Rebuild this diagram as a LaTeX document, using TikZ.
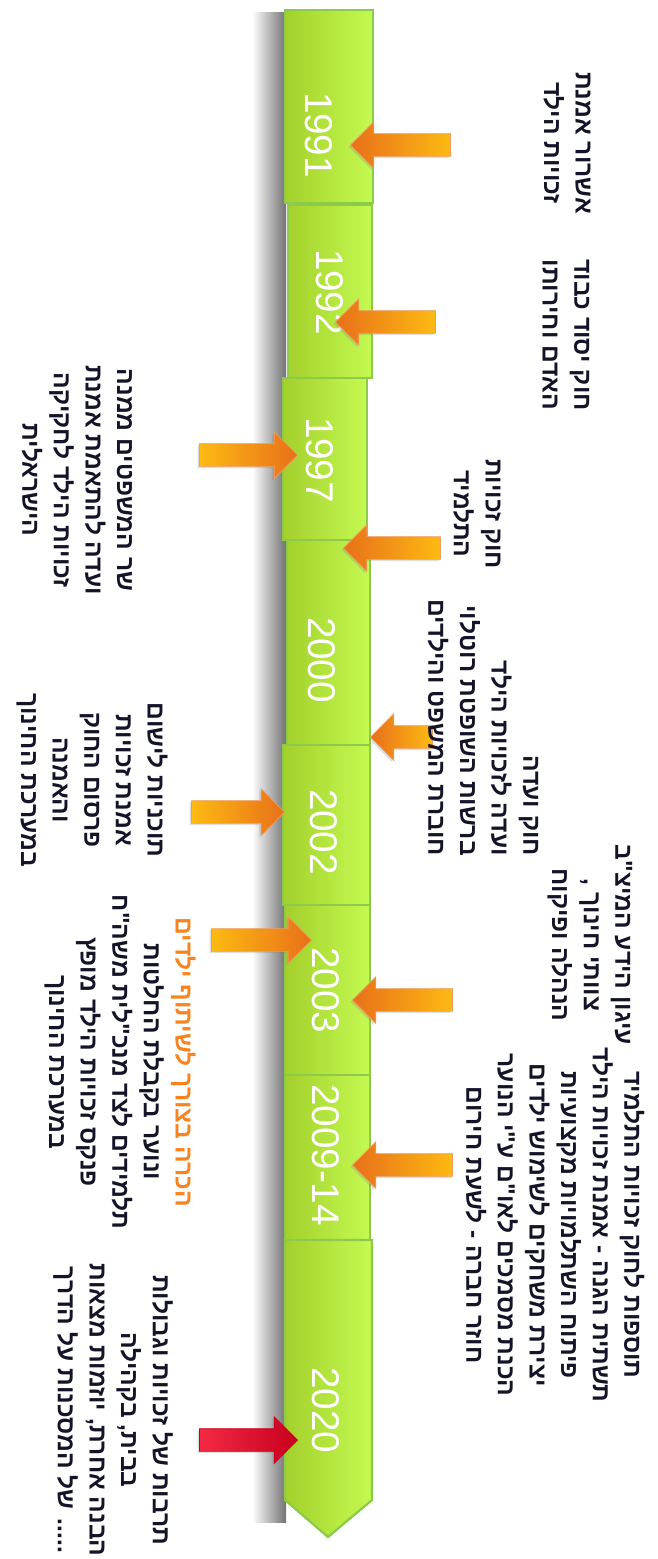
\documentclass[tikz,border=0pt]{standalone}
\usepackage{fontspec}
\setmainfont{Liberation Sans}
\newfontfamily\hebfont[Script=Hebrew]{Liberation Sans}
\usetikzlibrary{shapes.arrows,shadows}
\TeXXeTstate=1
\newcommand{\heb}[1]{\beginR #1\endR}

\definecolor{barleft}{HTML}{A4D02C}
\definecolor{barright}{HTML}{C4FA52}
\definecolor{barline}{HTML}{8CCB4A}
\definecolor{arrowdark}{HTML}{E8701A}
\definecolor{arrowlight}{HTML}{FDBA12}
\definecolor{reddark}{HTML}{C8001E}
\definecolor{redlight}{HTML}{F42A44}
\definecolor{noteorange}{HTML}{F7841E}
\definecolor{notetext}{HTML}{141428}

\tikzset{
  bar/.style={left color=barleft, right color=barright, draw=barline, line width=1.3pt},
  year/.style={rotate=-90, text=white, font=\fontsize{22}{22}\selectfont},
  note/.style={rotate=-90, align=center, text=notetext,
    font=\hebfont\bfseries\fontsize{14}{18}\selectfont},
  pointer/.style={single arrow, anchor=tip, minimum height=#1,
    single arrow head extend=0.24cm, single arrow tip angle=90,
    inner xsep=0pt, inner ysep=0.22cm,
    drop shadow={opacity=0.25, shadow xshift=-1pt, shadow yshift=-1pt}},
  fromright/.style={pointer=#1, shape border rotate=180,
    left color=arrowdark, right color=arrowlight, draw=arrowdark!70, line width=0.4pt},
  fromleft/.style={pointer=#1,
    left color=arrowlight, right color=arrowdark, draw=arrowdark!70, line width=0.4pt},
  redleft/.style={pointer=#1,
    left color=redlight, right color=reddark, draw=reddark, line width=0.4pt},
}

\begin{document}
\begin{tikzpicture}[x=0.02cm,y=-0.02cm]
  \useasboundingbox (0,0) rectangle (658,1559);

  % shadow beside the bar
  \shade[left color=white, right color=black!55] (252,12) rectangle (286,1522);

  % the bar, one block for each year
  \shade[bar] (285,10) rectangle (373,203);
  \shade[bar] (288,205) rectangle (372,378);
  \shade[bar] (283,378) rectangle (367,540);
  \shade[bar] (287,540) rectangle (370,745);
  \shade[bar] (283,745) rectangle (370,905);
  \shade[bar] (285,905) rectangle (370,1075);
  \shade[bar] (285,1075) rectangle (370,1240);
  \shade[bar] (285,1240) -- (372,1240) -- (372,1500) -- (328,1537) -- (285,1500) -- cycle;

  % years
  \node[year] (y1991) at (319,135) {1991};
  \node[year] (y1992) at (330,292) {1992};
  \node[year] (y1997) at (320,460) {1997};
  \node[year] (y2000) at (322,660) {2000};
  \node[year] (y2002) at (324,832) {2002};
  \node[year] (y2003) at (326,990) {2003};
  \node[year] (y2009) at (326,1155) {2009-14};
  \node[year] (y2020) at (326,1410) {2020};

  % arrows
  \node[fromright=100*0.02cm] (a1991) at (350,145) {};
  \node[fromright=100*0.02cm] (a1992) at (335,322) {};
  \node[fromright=97*0.02cm] (a1997r) at (343,548) {};
  \node[fromright=62*0.02cm] (a2000) at (370,737) {};
  \node[fromright=100*0.02cm] (a2003r) at (352,1000) {};
  \node[fromright=100*0.02cm] (a2009) at (352,1165) {};
  \node[fromleft=98*0.02cm] (a1997l) at (298,455) {};
  \node[fromleft=93*0.02cm] (a2002) at (285,812) {};
  \node[fromleft=100*0.02cm] (a2003l) at (312,940) {};
  \node[redleft=98*0.02cm] (a2020) at (298,1440) {};

  % texts
  \node[note] (t1991) at (567,143) {\heb{אשרור אמנת}\\\heb{זכויות הילד}};
  \node[note] (t1992) at (566,335) {\heb{חוק יסוד כבוד}\\\heb{האדם וחירותו}};
  \node[note] (t1997r) at (477,514) {\heb{חוק זכויות}\\\heb{התלמיד}};
  \node[note] (t1997l) at (77,480) {\heb{שר המשפטים ממנה}\\\heb{ועדה להתאמת אמנת}\\\heb{זכויות הילד לחקיקה}\\\heb{הישראלית}};
  \node[note, align=right, anchor=east] (t2000) at (483,862) {\heb{חוק ועדה}\\\heb{ועדה לזכויות הילד}\\\heb{ברשות השופטת רוטלוי}\\\heb{חוברת המשפט והילדים}};
  \node[note] (t2002) at (92,780) {\heb{תוכניות לישום}\\\heb{אמנת זכויות}\\\heb{פרסום החוק}\\\heb{והאמנה}\\\heb{במערכת החינוך}};
  \node[note] (t2003r) at (590,945) {\heb{עיגון הידע המיצ"ב}\\\heb{צוותי חינוך ,}\\\heb{הנהלה ופיקוח}};
  \node[note] (t2003l) at (120,1062) {{\color{noteorange}\heb{הכרה בצורך לשיתוף ילדים}}\\\heb{ונוער בקבלת החלטות}\\\heb{תלמידים לצד מנכ"לית משה"ח}\\\heb{פנקס זכויות הילד מופץ}\\\heb{במערכת החינוך}};
  \node[note] (t2009) at (555,1225) {\heb{תוספות לחוק זכויות התלמיד}\\\heb{תשתית הגנה - אמנת זכויות הילד}\\\heb{פיתוח השתלמויות מקצועיות}\\\heb{יצירת משחקים לשימוש ילדים}\\\heb{הכנת מסמכים לאו"ם ע"י הנוער}\\\heb{חוזר חברה - לשעת חירום}};
  \node[note] (t2020) at (113,1410) {\heb{תרבות של זכויות וגבולות}\\\heb{בבית, בקהילה}\\\heb{הבנה אחרת, יוזמות מצאות}\\\heb{..... של המסכנות על הדרך}};
\end{tikzpicture}
\end{document}
